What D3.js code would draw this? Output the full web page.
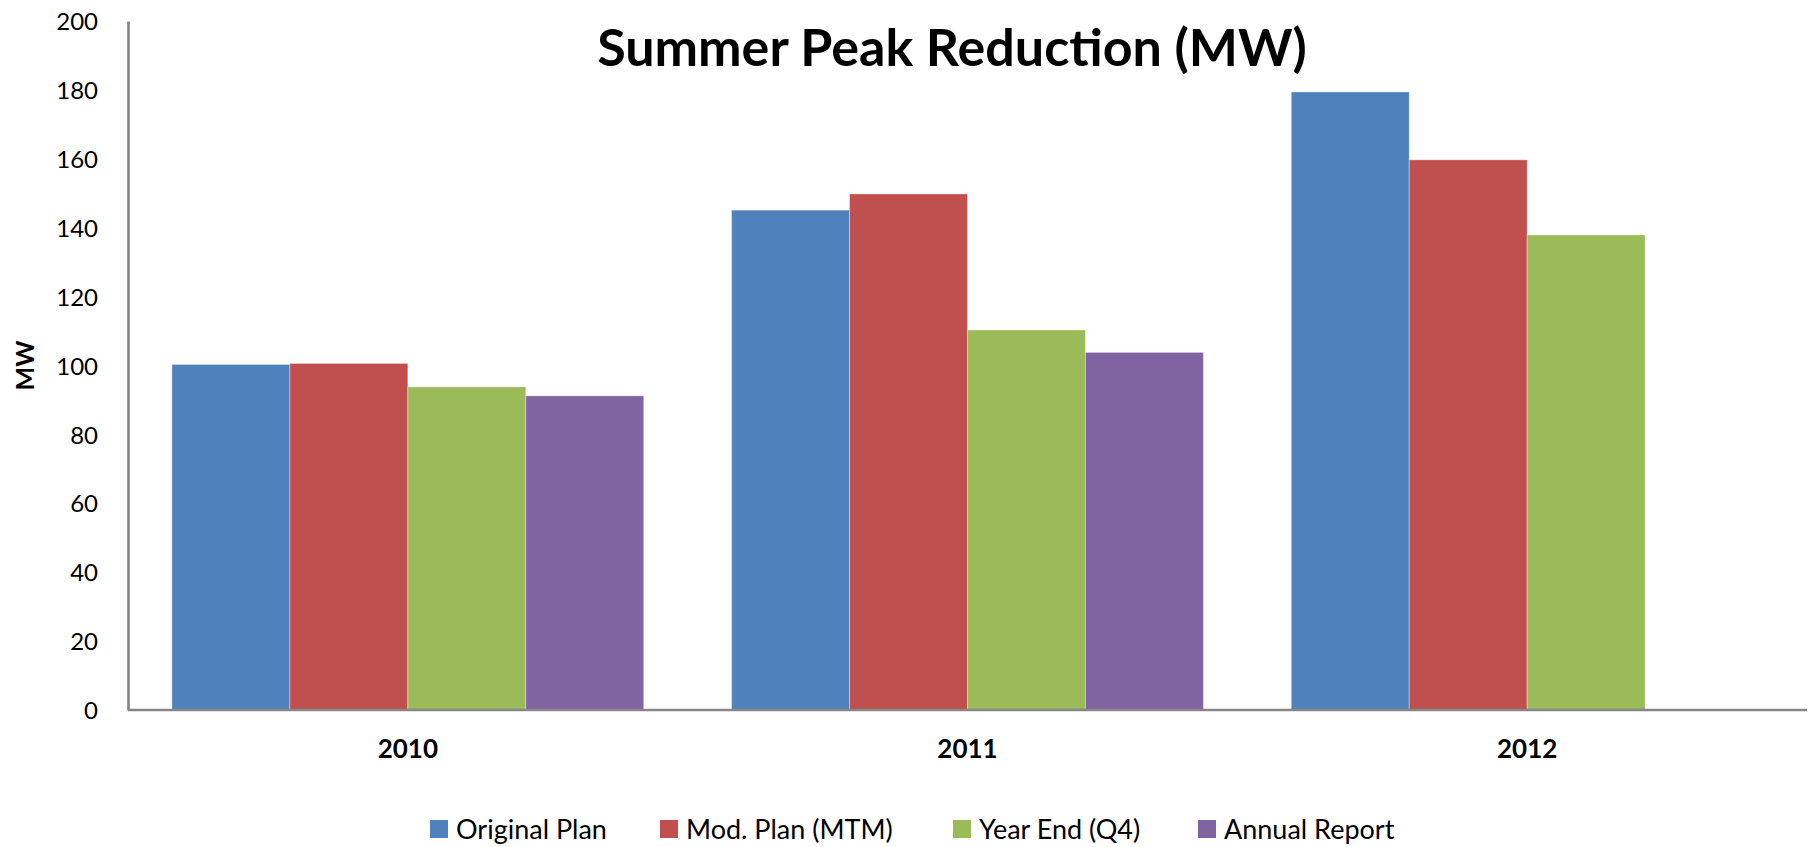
<!DOCTYPE html>
<html lang="en">
  <head>
    <meta charset="UTF-8"/>
    <title>Summer Peak Reduction (MW)</title>
    <script src="https://d3js.org/d3.v7.min.js"></script>
    <style>
      body { margin: 0; background: #fff; }
      text { font-family: Lato, 'Open Sans', sans-serif; fill: #000; }
      .title { font-size: 52px; font-weight: bold; }
      .tick-label { font-size: 24px; }
      .cat-label { font-size: 26px; font-weight: bold; }
      .axis-label { font-size: 25px; font-weight: bold; }
      .legend text { font-size: 27px; }
    </style>
  </head>
  <body>
    <script type="text/javascript">

      const years = ["2010", "2011", "2012"]
      const seriesNames = ["Original Plan", "Mod. Plan (MTM)", "Year End (Q4)", "Annual Report"]
      const originalPlan = [100.3, 145.1, 179.4]
      const modPlan = [100.6, 149.8, 159.7]
      const yearEnd = [93.8, 110.3, 137.9]
      const annualReport = [91.2, 103.8, null]
      const yTicks = [0, 20, 40, 60, 80, 100, 120, 140, 160, 180, 200]
      const colors = ["#4F81BD", "#C0504D", "#9BBB59", "#8064A2"]

      const seriesValues = [originalPlan, modPlan, yearEnd, annualReport]

      const outerWidth = 1815,
            outerHeight = 847,
            margin = ({top: 21, right: 8, bottom: 137, left: 128}),
            width = outerWidth - margin.left - margin.right,
            height = outerHeight - margin.top - margin.bottom

      const svg = d3.select("body").append("svg")
          .attr("width", outerWidth)
          .attr("height", outerHeight)

      const g = svg.append("g")
          .attr("transform", `translate(${margin.left},${margin.top})`)

      const x0 = d3.scaleBand()
          .domain(years)
          .range([0, width])
          .paddingInner(0.157)
          .paddingOuter(0.0785)

      const x1 = d3.scaleBand()
          .domain(seriesNames)
          .range([0, x0.bandwidth()])

      const y = d3.scaleLinear()
          .domain([0, 200])
          .range([height, 0])

      const color = d3.scaleOrdinal().domain(seriesNames).range(colors)

      const rows = years.map((yr, i) => ({
          year: yr,
          values: seriesNames.map((s, j) => ({series: s, value: seriesValues[j][i]}))
      }))

      // bars
      g.selectAll("g.group")
          .data(rows)
          .join("g")
          .attr("class", "group")
          .attr("transform", d => `translate(${x0(d.year)},0)`)
          .selectAll("rect")
          .data(d => d.values.filter(v => v.value != null))
          .join("rect")
          .attr("x", d => x1(d.series))
          .attr("width", x1.bandwidth())
          .attr("y", d => y(d.value))
          .attr("height", d => height - y(d.value))
          .attr("fill", d => color(d.series))
          .attr("stroke", "rgba(255,255,255,0.35)")
          .attr("stroke-width", 1)

      // y axis
      const yAxisG = g.append("g")
          .call(d3.axisLeft(y).tickValues(yTicks).tickSize(0).tickPadding(30))
      yAxisG.select(".domain").attr("stroke", "#868686").attr("stroke-width", 2.7)
      yAxisG.selectAll(".tick text").attr("class", "tick-label").attr("dy", "0.36em")

      yAxisG.append("text")
          .attr("class", "axis-label")
          .attr("text-anchor", "middle")
          .attr("transform", "rotate(-90)")
          .attr("x", -height / 2)
          .attr("y", -margin.left + 34)
          .text("MW")

      // x axis
      const xAxisG = g.append("g")
          .attr("transform", `translate(0,${height})`)
          .call(d3.axisBottom(x0).tickSize(0).tickPadding(30).tickSizeOuter(0))
      xAxisG.select(".domain").attr("stroke", "#868686").attr("stroke-width", 2.7)
          .attr("d", `M0,0H${width}`)
      xAxisG.selectAll(".tick text").attr("class", "cat-label")

      // title
      svg.append("text")
          .attr("class", "title")
          .attr("text-anchor", "middle")
          .attr("x", 952)
          .attr("y", 66)
          .text("Summer Peak Reduction (MW)")

      // legend
      const legendX = [430, 660, 953, 1198]
      const legend = svg.append("g").attr("class", "legend")
      const item = legend.selectAll("g")
          .data(seriesNames)
          .join("g")
          .attr("transform", (d, i) => `translate(${legendX[i]},829)`)
      item.append("rect")
          .attr("x", 0)
          .attr("y", -9)
          .attr("width", 18)
          .attr("height", 18)
          .attr("fill", d => color(d))
      item.append("text")
          .attr("x", 26)
          .attr("dy", "0.36em")
          .text(d => d)

    </script>
  </body>
</html>
